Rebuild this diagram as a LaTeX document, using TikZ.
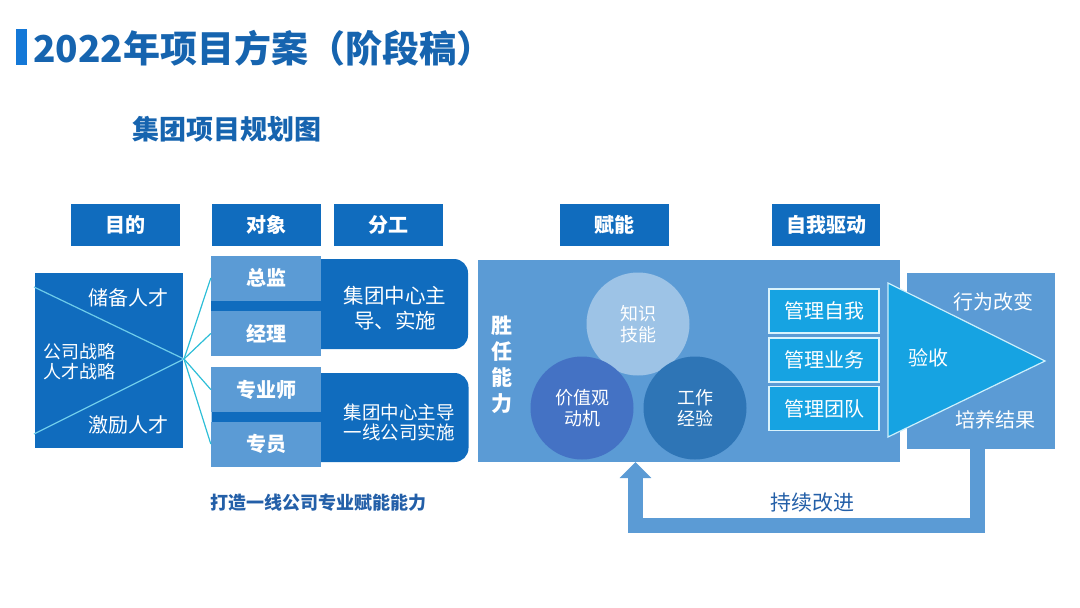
\documentclass[tikz,border=0pt]{standalone}
\usepackage{fontspec}
\setmainfont{Noto Sans CJK SC}
\usetikzlibrary{arrows.meta,positioning}

\definecolor{titleblue}{RGB}{22,100,175}
\definecolor{barblue}{RGB}{20,120,215}
\definecolor{hdrblue}{RGB}{16,108,190}
\definecolor{midblue}{RGB}{91,155,213}
\definecolor{cyanblue}{RGB}{22,163,226}
\definecolor{fanline}{RGB}{45,190,215}
\definecolor{wedgeline}{RGB}{110,205,235}
\definecolor{circA}{RGB}{157,195,230}
\definecolor{circB}{RGB}{68,114,196}
\definecolor{circC}{RGB}{46,117,182}
\definecolor{noteblue}{RGB}{35,95,168}

\newcommand{\fsz}[1]{\fontsize{#1}{#1}\selectfont}

\tikzset{
  hdr/.style={fill=hdrblue, text=white, font=\bfseries\fsz{20}, inner sep=0pt,
    minimum width=109pt, minimum height=42pt},
  objbox/.style={fill=midblue, text=white, font=\bfseries\fsz{20}, inner sep=0pt,
    minimum width=110pt, minimum height=45pt},
  divbox/.style={fill=hdrblue, rounded corners=14pt, inner sep=0pt,
    minimum width=257pt},
  mgbox/.style={fill=cyanblue, draw=white!85!cyan, line width=1.2pt, text=white,
    font=\fsz{20}, inner sep=0pt, minimum width=110pt, minimum height=44pt},
  ball/.style={circle, text=white, font=\fsz{18}, align=center, inner sep=0pt,
    minimum size=103pt},
  wtext/.style={text=white, font=\fsz{20}, align=center, inner sep=0pt},
  fb/.style={midblue, line width=15pt, -{Triangle[width=31pt,length=16pt]}}
}

\begin{document}
\begin{tikzpicture}[x=1pt,y=-1pt]
\useasboundingbox (0,0) rectangle (1080,608);

\fill[barblue] (16,29) rectangle (27,65);
\node[anchor=west, text=titleblue, font=\bfseries\fsz{37}, inner sep=0pt] (title) at (33,48) {2022年项目方案（阶段稿）};
\node[text=titleblue, font=\bfseries\fsz{27}, inner sep=0pt] (subtitle) at (226.5,129) {集团项目规划图};

\node[hdr] (mudi) at (125.5,224.5) {目的};
\node[hdr] (duixiang) at (266,224.5) {对象};
\node[hdr] (fengong) at (388.5,224.5) {分工};
\node[hdr] (funeng) at (614.5,224.5) {赋能};
\node[hdr, minimum width=108pt] (zqd) at (826,224.5) {自我驱动};

% left block
\node[fill=hdrblue, minimum width=148pt, minimum height=175pt, inner sep=0pt] (mdbox) at (109,360.5) {};
\coordinate (hub) at (184,359);
\draw[wedgeline, line width=1.2pt] (34,287) -- (hub) -- (34,434);
\node[wtext] (cb) at (128,298) {储备人才};
\node[wtext, font=\fsz{18}, anchor=west] (zl) at (43,362) {公司战略\\[2pt]人才战略};
\node[wtext] (jl) at (128,425) {激励人才};

\node[divbox, minimum height=90pt] (fg1) at (339.5,304) {};
\node[divbox, minimum height=89pt] (fg2) at (340,417.5) {};
\foreach \n/\t/\y in {zongjian/总监/278, jingli/经理/333.5, zhuanyeshi/专业师/389.5, zhuanyuan/专员/444}
  \node[objbox] (\n) at (266,\y) {\t};
\foreach \n in {zongjian,jingli,zhuanyeshi,zhuanyuan}
  \draw[fanline, line width=1.2pt] (hub) -- (\n.west);
\node[wtext, font=\fsz{20.5}] (fg1t) at (395,308) {集团中心主\\[4pt]导、实施};
\node[wtext, font=\fsz{18.5}] (fg2t) at (399,422.5) {集团中心主导\\[2pt]一线公司实施};

% competence block
\node[fill=midblue, minimum width=422pt, minimum height=202pt, inner sep=0pt] (sr) at (689,361) {};
\node[wtext, font=\bfseries\fsz{21}] (srnl) at (502,365) {胜\\[5pt]任\\[5pt]能\\[5pt]力};
\node[ball, fill=circA] (zsjn) at (638,324) {知识\\[3pt]技能};
\node[ball, fill=circB] (jzdj) at (582,408) {价值观\\[3pt]动机};
\node[ball, fill=circC] (gzjy) at (695,408) {工作\\[3pt]经验};
\foreach \n/\t/\y in {gl1/管理自我/311, gl2/管理业务/360, gl3/管理团队/408.5}
  \node[mgbox] (\n) at (824,\y) {\t};

% result block
\node[fill=midblue, minimum width=148pt, minimum height=176pt, inner sep=0pt] (jg) at (981,361) {};
\filldraw[fill=cyanblue, draw=white!80!cyan, line width=1.2pt] (888,283) -- (1045,361) -- (888,437) -- cycle;
\node[wtext] (ys) at (928,358) {验收};
\node[wtext] (xw) at (993,302) {行为改变};
\node[wtext] (py) at (995,420) {培养结果};

% feedback
\coordinate (fbend) at (635.5,462);
\draw[fb] ([xshift=-3.5pt]jg.south) -- ++(0,76) -| (fbend);
\node[text=noteblue, font=\fsz{21}, inner sep=0pt] (cxgj) at (812,503) {持续改进};
\node[text=noteblue, font=\bfseries\fsz{18}, inner sep=0pt] (dz) at (318.5,503) {打造一线公司专业赋能能力};
\end{tikzpicture}
\end{document}
